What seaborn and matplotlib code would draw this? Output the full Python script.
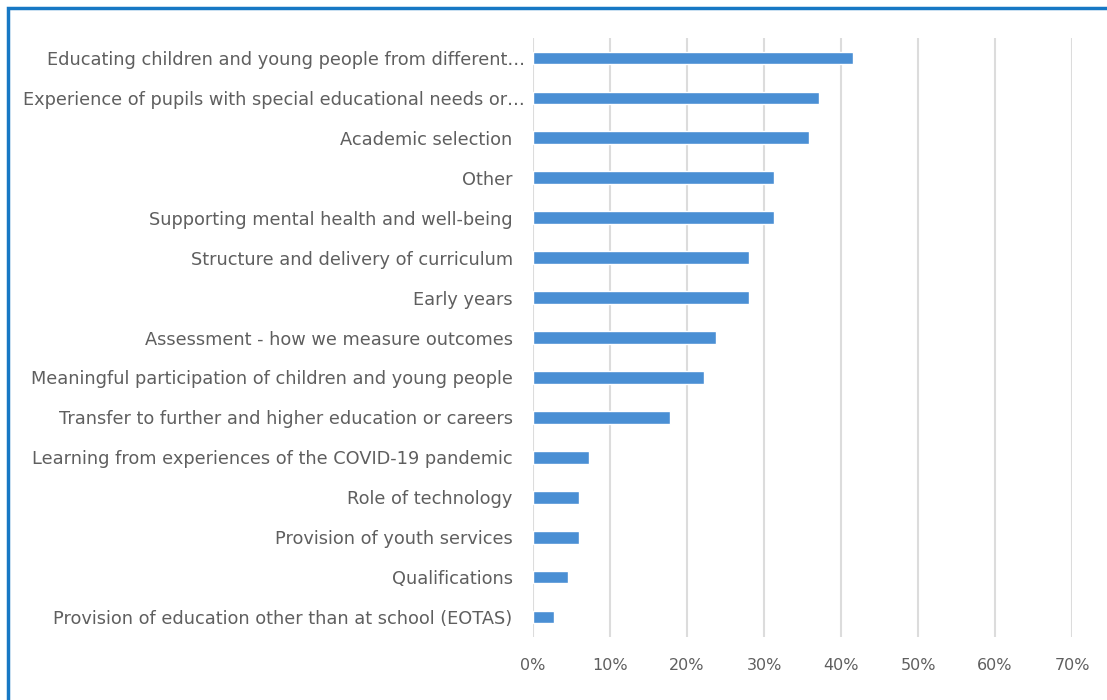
import matplotlib
matplotlib.use("Agg")
import matplotlib.pyplot as plt
import matplotlib.transforms as mtransforms
from matplotlib.patches import Rectangle
from matplotlib.ticker import PercentFormatter, MultipleLocator
import seaborn as sns
import pandas as pd

topics = [
    "Educating children and young people from different…",
    "Experience of pupils with special educational needs or…",
    "Academic selection",
    "Other",
    "Supporting mental health and well-being",
    "Structure and delivery of curriculum",
    "Early years",
    "Assessment - how we measure outcomes",
    "Meaningful participation of children and young people",
    "Transfer to further and higher education or careers",
    "Learning from experiences of the COVID-19 pandemic",
    "Role of technology",
    "Provision of youth services",
    "Qualifications",
    "Provision of education other than at school (EOTAS)",
]
shares = [0.416, 0.372, 0.358, 0.313, 0.313, 0.281, 0.281, 0.237,
          0.222, 0.178, 0.073, 0.060, 0.060, 0.045, 0.027]

df = pd.DataFrame({"topic": topics, "share": shares})

sns.set_theme(style="white")
plt.rcParams["font.family"] = ["DejaVu Sans"]

text_grey = "#5f5f5f"
bar_blue = "#4a8fd4"
grid_grey = "#dcdcdc"

fig = plt.figure(figsize=(11.07, 7.0), dpi=100)
ax = fig.add_axes([0.4815, 0.09, 0.4869, 0.8557])

sns.barplot(data=df, x="share", y="topic", orient="h", color=bar_blue,
            width=0.32, saturation=1, ax=ax)

ax.set_xlim(0, 0.70)
ax.xaxis.set_major_locator(MultipleLocator(0.10))
ax.xaxis.set_major_formatter(PercentFormatter(1.0, decimals=0))
ax.grid(axis="x", color=grid_grey, linewidth=1.5)
ax.set_axisbelow(True)
for side in ("top", "right", "bottom", "left"):
    ax.spines[side].set_visible(False)
ax.set_xlabel("")
ax.set_ylabel("")
ax.tick_params(axis="both", length=0)
ax.tick_params(axis="y", pad=6, labelsize=12.8, labelcolor=text_grey)
ax.tick_params(axis="x", pad=15, labelsize=11.5, labelcolor=text_grey)

# Full-length labels sit a little further from the axis than truncated ones
shift = mtransforms.ScaledTranslation(-12 / 100, 0, fig.dpi_scale_trans)
for lab in ax.get_yticklabels():
    if not lab.get_text().endswith("…"):
        lab.set_transform(lab.get_transform() + shift)

# Blue frame around the chart area
fig.patches.append(Rectangle((8 / 1107, -0.05), 1.2, 1 - 8 / 700 + 0.05,
                             transform=fig.transFigure, fill=False,
                             edgecolor="#1778c4", linewidth=2.5))

fig.savefig("out.png", dpi=100)
